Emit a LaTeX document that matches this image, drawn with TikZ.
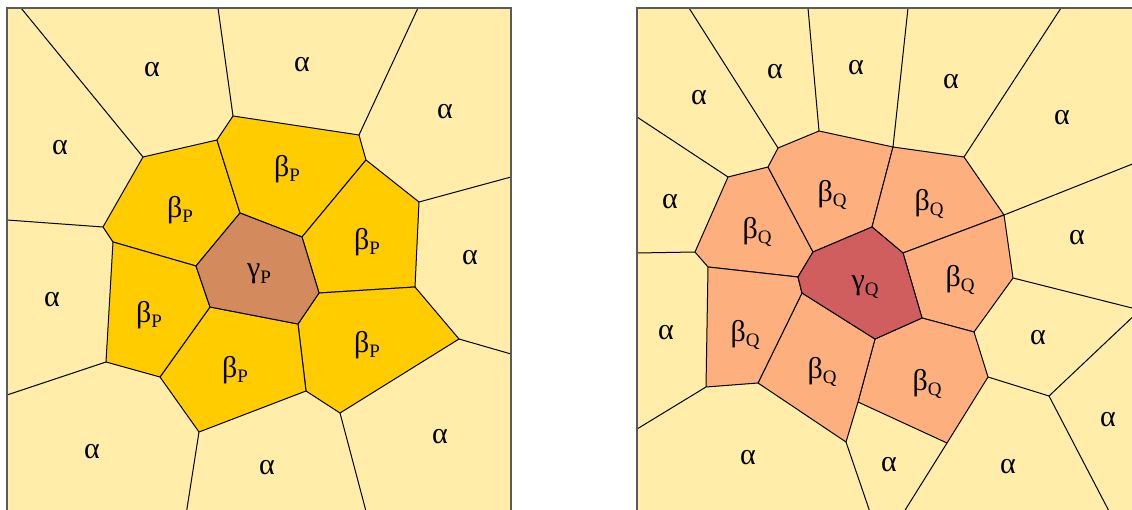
\documentclass[tikz,border=0pt]{standalone}
\usepackage{fontspec}
\setmainfont{Liberation Serif}
\usepackage{xcolor}
\usepackage{tikz}
\usetikzlibrary{positioning,calc}

\definecolor{alphacol}{HTML}{FFEDA9}
\definecolor{betaPcol}{HTML}{FFCC00}
\definecolor{gammaPcol}{HTML}{D38B5D}
\definecolor{betaQcol}{HTML}{FDB07E}
\definecolor{gammaQcol}{HTML}{D15E5E}
\definecolor{framecol}{HTML}{5A5A5A}

\newcommand{\phsub}[1]{\raisebox{-0.18em}{\fontsize{19}{22}\selectfont #1}}

\begin{document}
\begin{tikzpicture}[
    x=1pt, y=-1pt,
    cell/.style={draw=black, line width=1pt, line join=round},
    edge/.style={draw=black, line width=1pt},
    frame/.style={draw=framecol, line width=1.6pt},
    lbl/.style={font=\fontsize{30}{34}\selectfont, inner sep=0pt}
]
    \useasboundingbox (0,0) rectangle (1132,510);
    \clip (0,0) rectangle (1132,510);

    % ---- left panel (P) ----
    \fill[alphacol] (7,8) rectangle (511,515);
    \coordinate (p1) at (143,157);  \coordinate (p2) at (217,140);
    \coordinate (p3) at (233,116);  \coordinate (p4) at (240,213);
    \coordinate (p5) at (103,227);  \coordinate (p6) at (113,242);
    \coordinate (p7) at (359,135);  \coordinate (p8) at (366,160);
    \coordinate (p9) at (302,237);  \coordinate (p10) at (419,202);
    \coordinate (p11) at (106,362); \coordinate (p12) at (196,266);
    \coordinate (p13) at (210,307); \coordinate (p14) at (160,377);
    \coordinate (p15) at (199,432); \coordinate (p16) at (319,293);
    \coordinate (p17) at (298,324); \coordinate (p18) at (415,287);
    \coordinate (p19) at (459,339); \coordinate (p20) at (340,413);
    \coordinate (p21) at (306,391);
    % where the alpha edges meet the frame
    \coordinate (b1) at (21,8);    \coordinate (b2) at (218,8);
    \coordinate (b3) at (418,8);   \coordinate (b4) at (511,177);
    \coordinate (b5) at (511,354); \coordinate (b6) at (367,515);
    \coordinate (b7) at (186,515); \coordinate (b8) at (7,395);
    \coordinate (b9) at (7,220);

    \filldraw[cell, fill=betaPcol] (p1) -- (p2) -- (p4) -- (p12) -- (p6) -- (p5) -- cycle;
    \filldraw[cell, fill=betaPcol] (p2) -- (p3) -- (p7) -- (p8) -- (p9) -- (p4) -- cycle;
    \filldraw[cell, fill=betaPcol] (p8) -- (p10) -- (p18) -- (p16) -- (p9) -- cycle;
    \filldraw[cell, fill=betaPcol] (p16) -- (p18) -- (p19) -- (p20) -- (p21) -- (p17) -- cycle;
    \filldraw[cell, fill=betaPcol] (p13) -- (p17) -- (p21) -- (p15) -- (p14) -- cycle;
    \filldraw[cell, fill=betaPcol] (p6) -- (p12) -- (p13) -- (p14) -- (p11) -- cycle;
    \filldraw[cell, fill=gammaPcol] (p4) -- (p9) -- (p16) -- (p17) -- (p13) -- (p12) -- cycle;

    \draw[edge] (b1) -- (p1);
    \draw[edge] (b2) -- (p3);
    \draw[edge] (b3) -- (p7);
    \draw[edge] (p10) -- (b4);
    \draw[edge] (p19) -- (b5);
    \draw[edge] (p20) -- (b6);
    \draw[edge] (p15) -- (b7);
    \draw[edge] (p11) -- (b8);
    \draw[edge] (p5) -- (b9);
    \draw[frame] (7,515) -- (7,8) -- (511,8) -- (511,515);

    \node[lbl] (aP1) at (152,70) {α};
    \node[lbl] (aP2) at (302,65) {α};
    \node[lbl] (aP3) at (445,112) {α};
    \node[lbl] (aP4) at (60,148) {α};
    \node[lbl] (aP5) at (470,258) {α};
    \node[lbl] (aP6) at (52,300) {α};
    \node[lbl] (aP7) at (440,437) {α};
    \node[lbl] (aP8) at (267,468) {α};
    \node[lbl] (aP9) at (92,452) {α};
    \node[lbl] (bP1) at (180,210) {β\phsub{P}};
    \node[lbl] (bP2) at (287,169) {β\phsub{P}};
    \node[lbl] (bP3) at (367,242) {β\phsub{P}};
    \node[lbl] (bP4) at (367,345) {β\phsub{P}};
    \node[lbl] (bP5) at (235,370) {β\phsub{P}};
    \node[lbl] (bP6) at (149,315) {β\phsub{P}};
    \node[lbl] (gP) at (259,274) {γ\phsub{P}};

    % ---- right panel (Q) ----
    \fill[alphacol] (637,8) rectangle (1140,515);
    \coordinate (q1) at (778,148);  \coordinate (q2) at (819,131);
    \coordinate (q3) at (768,167);  \coordinate (q4) at (728,177);
    \coordinate (q5) at (813,252);  \coordinate (q6) at (872,227);
    \coordinate (q7) at (708,267);  \coordinate (q8) at (695,252);
    \coordinate (q9) at (798,277);  \coordinate (q10) at (802,293);
    \coordinate (q11) at (875,339); \coordinate (q12) at (758,383);
    \coordinate (q13) at (706,387); \coordinate (q14) at (846,442);
    \coordinate (q15) at (858,402); \coordinate (q16) at (974,332);
    \coordinate (q17) at (1013,278); \coordinate (q18) at (988,377);
    \coordinate (q19) at (1049,396); \coordinate (q20) at (947,443);
    \coordinate (q21) at (893,147); \coordinate (q22) at (964,157);
    \coordinate (q23) at (1004,215); \coordinate (q24) at (903,253);
    \coordinate (q25) at (922,318); \coordinate (q26) at (1140,310);
    \coordinate (c1) at (689,8);    \coordinate (c2) at (808,8);
    \coordinate (c3) at (908,8);    \coordinate (c4) at (1061,8);
    \coordinate (c5) at (1140,161); \coordinate (c6) at (1111,515);
    \coordinate (c7) at (902,515);  \coordinate (c8) at (871,515);
    \coordinate (c9) at (637,429);  \coordinate (c10) at (637,253);
    \coordinate (c11) at (637,117);

    \filldraw[cell, fill=betaQcol] (q4) -- (q3) -- (q5) -- (q9) -- (q7) -- (q8) -- cycle;
    \filldraw[cell, fill=betaQcol] (q3) -- (q1) -- (q2) -- (q21) -- (q6) -- (q5) -- cycle;
    \filldraw[cell, fill=betaQcol] (q21) -- (q22) -- (q23) -- (q24) -- (q6) -- cycle;
    \filldraw[cell, fill=betaQcol] (q24) -- (q23) -- (q17) -- (q16) -- (q25) -- cycle;
    \filldraw[cell, fill=betaQcol] (q25) -- (q16) -- (q18) -- (q20) -- (q15) -- (q11) -- cycle;
    \filldraw[cell, fill=betaQcol] (q10) -- (q11) -- (q15) -- (q14) -- (q12) -- cycle;
    \filldraw[cell, fill=betaQcol] (q7) -- (q9) -- (q10) -- (q12) -- (q13) -- cycle;
    \filldraw[cell, fill=gammaQcol] (q5) -- (q6) -- (q24) -- (q25) -- (q11) -- (q10) -- (q9) -- cycle;

    \draw[edge] (c1) -- (q1);
    \draw[edge] (c2) -- (q2);
    \draw[edge] (c3) -- (q21);
    \draw[edge] (c4) -- (q22);
    \draw[edge] (q23) -- (c5);
    \draw[edge] (q17) -- (q26) -- (q19);
    \draw[edge] (q18) -- (q19) -- (c6);
    \draw[edge] (q20) -- (c7);
    \draw[edge] (q14) -- (c8);
    \draw[edge] (q13) -- (c9);
    \draw[edge] (q8) -- (c10);
    \draw[edge] (q4) -- (c11);
    \draw[frame] (637,515) -- (637,8) -- (1140,8);

    \node[lbl] (aQ1) at (699,98) {α};
    \node[lbl] (aQ2) at (775,72) {α};
    \node[lbl] (aQ3) at (856,68) {α};
    \node[lbl] (aQ4) at (951,82) {α};
    \node[lbl] (aQ5) at (1062,118) {α};
    \node[lbl] (aQ6) at (670,202) {α};
    \node[lbl] (aQ7) at (1077,238) {α};
    \node[lbl] (aQ8) at (666,333) {α};
    \node[lbl] (aQ9) at (1038,338) {α};
    \node[lbl] (aQ10) at (1108,420) {α};
    \node[lbl] (aQ11) at (748,458) {α};
    \node[lbl] (aQ12) at (889,465) {α};
    \node[lbl] (aQ13) at (1008,467) {α};
    \node[lbl] (bQ1) at (757,232) {β\phsub{Q}};
    \node[lbl] (bQ2) at (832,195) {β\phsub{Q}};
    \node[lbl] (bQ3) at (929,204) {β\phsub{Q}};
    \node[lbl] (bQ4) at (960,280) {β\phsub{Q}};
    \node[lbl] (bQ5) at (927,384) {β\phsub{Q}};
    \node[lbl] (bQ6) at (822,372) {β\phsub{Q}};
    \node[lbl] (bQ7) at (745,335) {β\phsub{Q}};
    \node[lbl] (gQ) at (865,287) {γ\phsub{Q}};
\end{tikzpicture}
\end{document}
